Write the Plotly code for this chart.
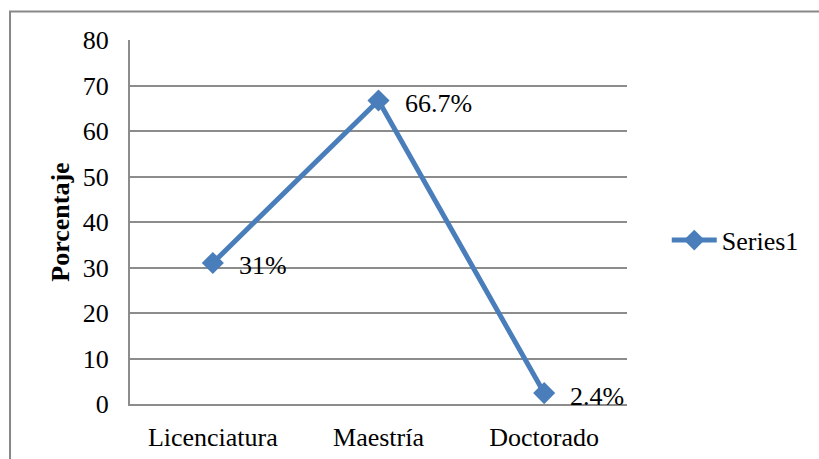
import plotly.graph_objects as go

# Education level share (%)
categories = ["Licenciatura", "Maestría", "Doctorado"]
values = [31, 66.7, 2.4]
series_name = "Series1"
y_ticks = [0, 10, 20, 30, 40, 50, 60, 70, 80]

blue = "#4A7EBB"
grid = "#8C8C8C"
serif = "Liberation Serif"

labels = [f"{v:g}%" for v in values]

fig = go.Figure()
fig.add_trace(go.Scatter(
    x=categories,
    y=values,
    name=series_name,
    mode="lines+markers",
    line=dict(color=blue, width=5),
    marker=dict(symbol="diamond", size=17, color=blue),
    cliponaxis=False,
))

# value labels to the right of each point
for cat, val, lab in zip(categories, values, labels):
    fig.add_annotation(
        x=cat, y=val, text=lab, showarrow=False,
        xanchor="left", yanchor="middle",
        xshift=24, yshift=-3,
        font=dict(family=serif, size=26, color="black"),
    )

fig.update_layout(
    width=819,
    height=459,
    margin=dict(l=130, r=192, t=40, b=55, autoexpand=False),
    paper_bgcolor="white",
    plot_bgcolor="white",
    font=dict(family=serif, size=26, color="black"),
    showlegend=True,
    legend=dict(
        x=1.080, y=0.45, xanchor="left", yanchor="middle",
        font=dict(family=serif, size=26, color="black"),
        bgcolor="rgba(0,0,0,0)",
        itemwidth=45,
    ),
    shapes=[dict(
        type="rect", xref="paper", yref="paper",
        x0=-0.2414, x1=2.0, y0=-0.5, y1=1.0 + 28.5 / 364,
        line=dict(color="#888888", width=2),
        fillcolor="rgba(0,0,0,0)",
        layer="below",
    )],
)

fig.update_xaxes(
    type="category",
    range=[-0.5, 2.5],
    automargin=False,
    showgrid=False,
    showline=True,
    linecolor=grid,
    linewidth=2,
    ticks="",
    ticklabelstandoff=9,
    tickfont=dict(family=serif, size=26, color="black"),
)

fig.update_yaxes(
    range=[0, 80],
    tickvals=y_ticks,
    automargin=False,
    showgrid=True,
    gridcolor=grid,
    gridwidth=2,
    showline=True,
    linecolor=grid,
    linewidth=2,
    zeroline=False,
    ticks="",
    ticklabelstandoff=14,
    tickfont=dict(family=serif, size=26, color="black"),
    title=dict(
        text="<b>Porcentaje</b>",
        font=dict(family=serif, size=26, color="black"),
        standoff=6,
    ),
)

fig.write_html("out.html")
